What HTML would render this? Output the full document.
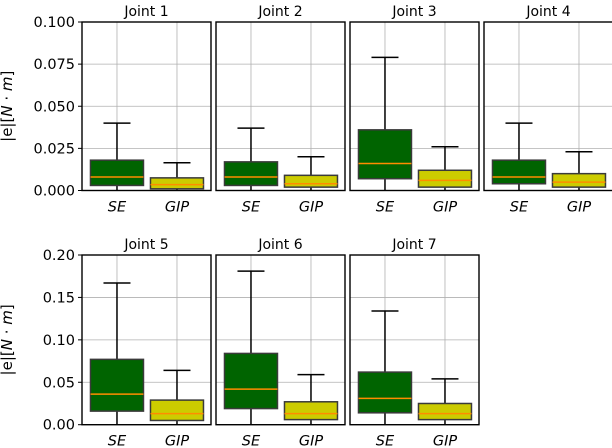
<!DOCTYPE html>
<html><head><meta charset="utf-8"><style>
body{margin:0;background:#fff}
svg{display:block;font-family:"DejaVu Sans","Liberation Sans",sans-serif}
</style></head><body>
<svg id="c" width="612" height="448" viewBox="0 0 612 448" xmlns="http://www.w3.org/2000/svg"></svg>
<script>
const joints = ["Joint 1","Joint 2","Joint 3","Joint 4","Joint 5","Joint 6","Joint 7"];
const methods = ["SE","GIP"];
// [whislo, q1, med, q3, whishi]
const seStats = [
  [0,0.003,0.008,0.018,0.040],[0,0.003,0.008,0.017,0.037],[0,0.007,0.016,0.036,0.079],[0,0.004,0.008,0.018,0.040],
  [0,0.016,0.036,0.077,0.167],[0,0.019,0.042,0.084,0.181],[0,0.014,0.031,0.062,0.134]];
const gipStats = [
  [0,0.001,0.0035,0.0075,0.0165],[0,0.002,0.004,0.009,0.020],[0,0.002,0.006,0.012,0.026],[0,0.002,0.005,0.010,0.023],
  [0,0.005,0.013,0.029,0.064],[0,0.006,0.013,0.027,0.059],[0,0.006,0.013,0.025,0.054]];
const topTicks = ["0.000","0.025","0.050","0.075","0.100"];
const botTicks = ["0.00","0.05","0.10","0.15","0.20"];
const colors = ["#006400","#cccc00"];

const svg = document.getElementById('c');
const NS = "http://www.w3.org/2000/svg";
function mk(tag, attrs, parent){const e=document.createElementNS(NS,tag);for(const k in attrs)e.setAttribute(k,attrs[k]);(parent||svg).appendChild(e);return e;}

const rows = [{top:22,bot:190.5,max:0.1,ticks:topTicks},{top:255,bot:424.7,max:0.2,ticks:botTicks}];
const PW=129, stride=134, x0=82;

joints.forEach((name,i)=>{
  const r = i<4?0:1, c = i<4?i:i-4;
  const R = rows[r];
  const L = x0+c*stride, Rr = L+PW;
  const y = v => R.bot - v/R.max*(R.bot-R.top);
  const x = p => L + (p-0.417)/(2.567-0.417)*PW;
  const g = mk('g',{});
  
  
  R.ticks.forEach(t=>{const v=parseFloat(t);const gl=mk('line',{x1:L,x2:Rr,y1:y(v),y2:y(v),stroke:'#b0b0b0','stroke-width':0.8},g);
    });
  [1,2].forEach(p=>{const gl=mk('line',{x1:x(p),x2:x(p),y1:R.top,y2:R.bot,stroke:'#b0b0b0','stroke-width':0.8},g);
    });
  [seStats[i],gipStats[i]].forEach((s,k)=>{
    const cx=x(k+1), hw=26.5;
    const bg=mk('g',{},g);
    
    
    mk('line',{x1:cx,x2:cx,y1:y(s[0]),y2:y(s[1]),stroke:'#000','stroke-width':1.5},bg);
    mk('line',{x1:cx,x2:cx,y1:y(s[3]),y2:y(s[4]),stroke:'#000','stroke-width':1.5},bg);
    mk('line',{x1:cx-13.5,x2:cx+13.5,y1:y(s[4]),y2:y(s[4]),stroke:'#000','stroke-width':1.5},bg);
    mk('rect',{x:cx-hw,y:y(s[3]),width:2*hw,height:y(s[1])-y(s[3]),fill:colors[k],stroke:'#3a3a3a','stroke-width':1.5},bg);
    mk('line',{x1:cx-hw,x2:cx+hw,y1:y(s[2]),y2:y(s[2]),stroke:'#ff8c00','stroke-width':1.5},bg);
    const t=mk('text',{x:cx,y:R.bot+21,'text-anchor':'middle','font-size':14.5,'font-style':'italic',fill:'#000'},g);
    t.textContent=methods[k];
    
  });
  const fr=mk('rect',{x:L,y:R.top,width:PW,height:R.bot-R.top,fill:'none',stroke:'#000','stroke-width':1.4},g);
  
  const tt=mk('text',{x:(L+Rr)/2,y:R.top-6,'text-anchor':'middle','font-size':14,fill:'#000'},g);
  tt.textContent=name;
  
  if(c===0){
    R.ticks.forEach(t=>{const v=parseFloat(t);
      mk('line',{x1:L-4,x2:L,y1:y(v),y2:y(v),stroke:'#000','stroke-width':1},g);
      const tl=mk('text',{x:L-7,y:y(v)+5,'text-anchor':'end','font-size':14.5,fill:'#000'},g);
      tl.textContent=t;
      });
    const yl=mk('text',{transform:`translate(12,${(R.top+R.bot)/2}) rotate(-90)`,'text-anchor':'middle','font-size':15,fill:'#000'},g);
    yl.innerHTML='|e|[<tspan font-style="italic">N</tspan> · <tspan font-style="italic">m</tspan>]';
    
  }
});
</script>
</body></html>
